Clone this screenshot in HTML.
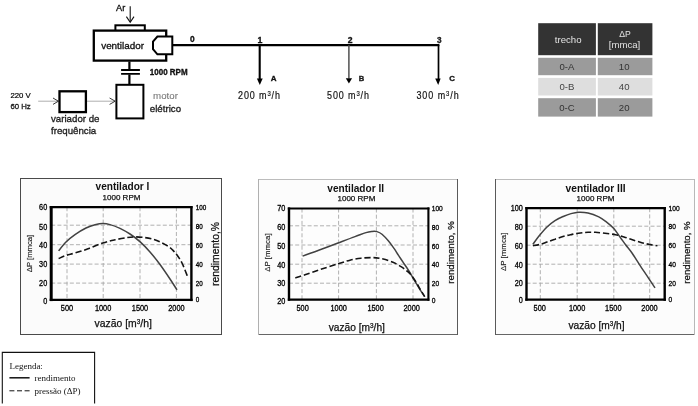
<!DOCTYPE html>
<html>
<head>
<meta charset="utf-8">
<title>ventiladores</title>
<style>
html,body{margin:0;padding:0;background:#fff;}
body{width:698px;height:406px;overflow:hidden;position:relative;font-family:"Liberation Sans",sans-serif;}
svg{position:absolute;left:0;top:0;display:block;will-change:transform;}
text{font-family:"Liberation Sans",sans-serif;fill:#111;}
.serif{font-family:"Liberation Serif",serif;}
.b{font-weight:bold;}
.tk{fill:#000;stroke:#000;stroke-width:0.3px;}
.w{stroke:#111;stroke-width:0.25px;}
#schematic text{stroke:#111;stroke-width:0.32px;}
#schematic text.fl{stroke-width:0.18px;}
#schematic text.lt{stroke:#777;stroke-width:0.1px;}
#table text{stroke-width:0.2px;}
.grid{stroke:#a8a8a8;stroke-width:0.9;stroke-dasharray:4 2.2;fill:none;}
</style>
</head>
<body>
<svg width="698" height="406" viewBox="0 0 698 406">
<defs><filter id="soft" x="0" y="0" width="100%" height="100%" filterUnits="userSpaceOnUse" color-interpolation-filters="sRGB"><feGaussianBlur stdDeviation="0.42"/></filter></defs>
<rect x="0" y="0" width="698" height="406" fill="#ffffff"/>
<g filter="url(#soft)">

<!-- ================= top-left schematic ================= -->
<g id="schematic">
  <!-- Ar + arrow -->
  <text x="116" y="10.6" font-size="9.2">Ar</text>
  <path d="M130.2 6.2 V22" stroke="#111" stroke-width="1.1" fill="none"/>
  <path d="M126.4 16.6 L130.2 22.2 L134 16.6" stroke="#111" stroke-width="1.1" fill="none"/>
  <!-- inlet tab -->
  <rect x="115.4" y="25.3" width="29.4" height="6" fill="#fff" stroke="#000" stroke-width="2"/>
  <!-- fan box -->
  <rect x="93.8" y="30.6" width="72.4" height="30" fill="#fff" stroke="#000" stroke-width="2.3"/>
  <text x="101.2" y="48.9" font-size="9.9">ventilador</text>
  <!-- outlet nozzle -->
  <path d="M157.4 36.6 H172.3 V54.3 H157.4 L153 49.2 V41.6 Z" fill="#fff" stroke="#000" stroke-width="2"/>
  <!-- main pipe -->
  <path d="M173 45.1 H439.4" stroke="#000" stroke-width="2.3" fill="none"/>
  <!-- shaft + coupling -->
  <path d="M129.4 61.6 V69.6 M129.4 74.4 V84" stroke="#000" stroke-width="2.2" fill="none"/>
  <path d="M121.1 70 H139.9 M121.1 73.8 H139.9" stroke="#000" stroke-width="1.8" fill="none"/>
  <text x="149.8" y="74.8" font-size="8.8" class="b" textLength="37.8" lengthAdjust="spacingAndGlyphs">1000 RPM</text>
  <!-- motor -->
  <rect x="116.4" y="84.8" width="27" height="33.6" fill="#fff" stroke="#000" stroke-width="2"/>
  <text x="153.1" y="98.9" font-size="9.7" class="lt" style="fill:#777">motor</text>
  <text x="149.8" y="112.2" font-size="9.7" style="fill:#333">elétrico</text>
  <!-- supply -->
  <text x="10.4" y="98.1" font-size="7.8" style="fill:#000;stroke:#000;stroke-width:0.2px">220 V</text>
  <text x="10.4" y="109" font-size="7.8" style="fill:#333">60 Hz</text>
  <path d="M38.2 101.2 H58.4 M87 101.2 H115.2" stroke="#999" stroke-width="0.8" fill="none"/>
  <path d="M53 98 L58.4 101.2 L53 104.4" stroke="#222" stroke-width="0.9" fill="none"/>
  <path d="M109.6 98 L115.2 101.2 L109.6 104.4" stroke="#222" stroke-width="0.9" fill="none"/>
  <rect x="59.5" y="91.3" width="26.4" height="20.8" fill="#fff" stroke="#000" stroke-width="2.3"/>
  <text x="51" y="121.9" font-size="9.7" style="fill:#333">variador de</text>
  <text x="51" y="134.1" font-size="9.7" style="fill:#333">frequência</text>

  <!-- node labels -->
  <text x="189.9" y="42.4" font-size="8.4" class="b">0</text>
  <text x="257.6" y="42.8" font-size="8.8" class="b">1</text>
  <text x="347.8" y="42.6" font-size="8.6" class="b">2</text>
  <text x="436.9" y="42.6" font-size="8.2" class="b" style="fill:#2a2a2a">3</text>
  <!-- drops -->
  <path d="M259.7 45 V79" stroke="#000" stroke-width="2.1" fill="none"/>
  <path d="M256.9 78.4 H262.7 L259.8 85 Z" fill="#000"/>
  <path d="M348.9 45 V78.5" stroke="#444" stroke-width="1.4" fill="none"/>
  <path d="M345.8 78.2 H352.1 L348.9 83.4 Z" fill="#000"/>
  <path d="M438.5 45 V79" stroke="#000" stroke-width="1.7" fill="none"/>
  <path d="M435.2 78.4 H440.6 L438.2 85 Z" fill="#000"/>
  <text x="270.8" y="80.6" font-size="8" class="b">A</text>
  <text x="358.8" y="80.5" font-size="7.6" class="b" style="fill:#222">B</text>
  <text x="449.2" y="80.5" font-size="7.8" class="b">C</text>
  <text class="fl" transform="translate(238 98.8) scale(0.87 1)" font-size="10.3" textLength="48.3" lengthAdjust="spacing">200 m<tspan font-size="6.8" dy="-3.3">3</tspan><tspan dy="3.3">/h</tspan></text>
  <text class="fl" transform="translate(327 98.8) scale(0.87 1)" font-size="10.3" textLength="48.3" lengthAdjust="spacing">500 m<tspan font-size="6.8" dy="-3.3">3</tspan><tspan dy="3.3">/h</tspan></text>
  <text class="fl" transform="translate(416.4 98.8) scale(0.87 1)" font-size="10.3" textLength="48.7" lengthAdjust="spacing">300 m<tspan font-size="6.8" dy="-3.3">3</tspan><tspan dy="3.3">/h</tspan></text>
</g>

<!-- ================= table ================= -->
<g id="table" font-size="9.6" text-anchor="middle">
  <rect x="538.2" y="23.2" width="57.7" height="32" fill="#333333"/>
  <rect x="597.8" y="23.2" width="54.6" height="32" fill="#333333"/>
  <rect x="538.2" y="57.8" width="57.7" height="17.4" fill="#9b9b9b"/>
  <rect x="597.8" y="57.8" width="54.6" height="17.4" fill="#9b9b9b"/>
  <rect x="538.2" y="77.9" width="57.7" height="17.6" fill="#dedede"/>
  <rect x="597.8" y="77.9" width="54.6" height="17.6" fill="#dedede"/>
  <rect x="538.2" y="98.2" width="57.7" height="18.4" fill="#9b9b9b"/>
  <rect x="597.8" y="98.2" width="54.6" height="18.4" fill="#9b9b9b"/>
  <text x="568.2" y="42.8" style="fill:#e4e4e4">trecho</text>
  <text x="625.1" y="36.6" font-size="8.6" style="fill:#e4e4e4">ΔP</text>
  <text x="624.5" y="48.2" style="fill:#e4e4e4">[mmca]</text>
  <text x="567" y="70" style="fill:#333">0-A</text>
  <text x="624.2" y="70" style="fill:#333">10</text>
  <text x="567" y="90.2" style="fill:#444">0-B</text>
  <text x="624.2" y="90.2" style="fill:#444">40</text>
  <text x="567" y="110.8" style="fill:#333">0-C</text>
  <text x="624.2" y="110.8" style="fill:#333">20</text>
</g>

<!-- CHARTS-BEGIN -->
<g id="c1">
<rect x="20.5" y="178.5" width="201.0" height="156.0" fill="#fbfbfb"/>
<path d="M20.0 178.5 H222.0" stroke="#4a4a4a" stroke-width="1"/>
<path d="M20.0 334.5 H222.0" stroke="#4a4a4a" stroke-width="1"/>
<path d="M20.5 178.0 V335.0" stroke="#4a4a4a" stroke-width="1"/>
<path d="M221.5 178.0 V335.0" stroke="#4a4a4a" stroke-width="1"/>
<rect x="51.2" y="207.2" width="140.2" height="92.7" fill="#fdfdfd"/>
<path class="grid" d="M67.0 207.2 V299.9 M103.2 207.2 V299.9 M140.0 207.2 V299.9 M176.4 207.2 V299.9 M51.2 225.2 H191.4 M51.2 244.7 H191.4 M51.2 264.1 H191.4 M51.2 283.1 H191.4"/>
<path d="M58.6 250.9 C59.8 249.4 63.3 244.7 66.0 242.0 C68.7 239.3 71.7 236.9 75.0 234.6 C78.3 232.3 82.7 229.6 86.0 228.0 C89.3 226.4 92.2 225.5 95.0 224.8 C97.8 224.1 100.3 223.6 102.8 223.6 C105.3 223.6 107.1 223.8 110.0 224.6 C112.9 225.4 116.7 226.8 120.0 228.4 C123.3 230.0 126.6 231.8 130.0 234.0 C133.4 236.2 136.9 238.9 140.2 241.9 C143.5 244.9 146.7 248.2 150.0 252.0 C153.3 255.8 156.7 260.0 160.0 264.5 C163.3 269.0 167.2 274.8 170.0 279.0 C172.8 283.2 175.8 288.0 177.0 289.8" fill="none" stroke="#424242" stroke-width="1.5"/>
<path d="M58.6 258.6 C59.8 258.1 63.3 256.3 66.0 255.4 C68.7 254.5 71.3 254.1 75.0 253.0 C78.7 251.9 83.4 250.5 88.0 248.8 C92.6 247.1 98.3 244.5 102.8 243.0 C107.3 241.5 111.0 240.7 115.0 239.8 C119.0 238.9 123.7 238.1 127.0 237.6 C130.3 237.1 132.0 236.9 135.0 236.9 C138.0 236.9 142.0 237.2 145.0 237.6 C148.0 238.0 150.5 238.5 153.0 239.2 C155.5 239.9 157.5 240.7 160.0 241.9 C162.5 243.1 165.8 244.8 168.0 246.2 C170.2 247.6 171.5 248.9 173.0 250.4 C174.5 251.9 175.5 252.9 177.0 255.0 C178.5 257.1 180.2 259.3 182.0 263.0 C183.8 266.7 186.8 274.7 187.7 277.0" fill="none" stroke="#141414" stroke-width="1.6" stroke-dasharray="6.2 2.8"/>
<path d="M51.2 206.1 V301.1" stroke="#000" stroke-width="3.0"/>
<path d="M191.4 206.1 V301.1" stroke="#000" stroke-width="2.4"/>
<path d="M49.7 207.2 H192.6" stroke="#000" stroke-width="2.2"/>
<path d="M49.7 299.9 H192.6" stroke="#000" stroke-width="2.4"/>
<text class="tk" text-anchor="end" font-size="8.2" transform="translate(47.2 210.2) scale(0.89 1)">60</text>
<text class="tk" text-anchor="end" font-size="8.2" transform="translate(47.2 229.5) scale(0.89 1)">50</text>
<text class="tk" text-anchor="end" font-size="8.2" transform="translate(47.2 247.8) scale(0.89 1)">40</text>
<text class="tk" text-anchor="end" font-size="8.2" transform="translate(47.2 266.8) scale(0.89 1)">30</text>
<text class="tk" text-anchor="end" font-size="8.2" transform="translate(47.2 285.8) scale(0.89 1)">20</text>
<text class="tk" text-anchor="end" font-size="8.2" transform="translate(47.2 303.6) scale(0.89 1)">0</text>
<text class="tk" font-size="7.0" transform="translate(195.8 209.8) scale(0.9 1)">100</text>
<text class="tk" font-size="7.0" transform="translate(195.8 228.8) scale(0.9 1)">80</text>
<text class="tk" font-size="7.0" transform="translate(195.8 248.1) scale(0.9 1)">60</text>
<text class="tk" font-size="7.0" transform="translate(195.8 267.0) scale(0.9 1)">40</text>
<text class="tk" font-size="7.0" transform="translate(195.8 286.0) scale(0.9 1)">20</text>
<text class="tk" font-size="7.0" transform="translate(195.8 302.4) scale(0.9 1)">0</text>
<text class="tk" text-anchor="middle" font-size="8.3" transform="translate(67.0 310.8) scale(0.89 1)">500</text>
<text class="tk" text-anchor="middle" font-size="8.3" transform="translate(103.1 310.8) scale(0.89 1)">1000</text>
<text class="tk" text-anchor="middle" font-size="8.3" transform="translate(140.0 310.8) scale(0.89 1)">1500</text>
<text class="tk" text-anchor="middle" font-size="8.3" transform="translate(176.4 310.8) scale(0.89 1)">2000</text>
<text class="b" text-anchor="middle" x="122.5" y="189.8" font-size="10.1">ventilador I</text>
<text text-anchor="middle" x="121.5" y="199.9" font-size="8" class="w">1000 RPM</text>
<text text-anchor="middle" x="123.2" y="327.4" font-size="10.4" class="w">vazão [m<tspan font-size="6.4" dy="-3">3</tspan><tspan dy="3">/h]</tspan></text>
<text text-anchor="middle" transform="translate(31.8 253.5) rotate(-90)" font-size="7.7" style="fill:#222;stroke:#222;stroke-width:0.15px">ΔP [mmca]</text>
<text text-anchor="middle" transform="translate(219.0 254.0) rotate(-90)" font-size="10.4" class="w">rendimento,%</text>
</g>
<g id="c2">
<rect x="258.5" y="179.5" width="199.0" height="155.0" fill="#fcfcfc"/>
<path d="M258.0 179.5 H458.0" stroke="#bcbcbc" stroke-width="1"/>
<path d="M258.0 334.5 H458.0" stroke="#666666" stroke-width="1"/>
<path d="M258.5 179.0 V335.0" stroke="#b0b0b0" stroke-width="1"/>
<path d="M457.5 179.0 V335.0" stroke="#5a5a5a" stroke-width="1"/>
<rect x="289.0" y="208.5" width="139.4" height="91.2" fill="#fdfdfd"/>
<path class="grid" d="M302.0 208.5 V299.7 M338.6 208.5 V299.7 M376.4 208.5 V299.7 M413.0 208.5 V299.7 M289.0 225.8 H428.4 M289.0 245.0 H428.4 M289.0 264.2 H428.4 M289.0 283.2 H428.4"/>
<path d="M302.6 256.1 C305.5 255.1 314.1 252.0 320.0 249.8 C325.9 247.6 332.2 245.2 338.0 243.0 C343.8 240.8 350.3 238.3 355.0 236.6 C359.7 234.9 363.2 233.5 366.0 232.6 C368.8 231.7 370.2 231.6 372.0 231.4 C373.8 231.2 375.3 231.1 377.0 231.6 C378.7 232.1 380.1 232.6 382.0 234.2 C383.9 235.8 386.5 238.6 388.5 241.0 C390.5 243.4 392.3 246.0 394.0 248.4 C395.7 250.8 396.8 252.9 398.5 255.4 C400.2 257.9 402.3 261.1 404.0 263.6 C405.7 266.1 406.9 267.8 408.6 270.5 C410.3 273.2 412.1 276.4 414.0 279.6 C415.9 282.8 418.2 286.8 420.0 289.6 C421.8 292.4 423.9 295.4 424.7 296.6" fill="none" stroke="#424242" stroke-width="1.5"/>
<path d="M295.3 277.9 C296.9 277.4 300.9 276.2 305.0 274.8 C309.1 273.4 314.5 271.4 320.0 269.6 C325.5 267.8 333.1 265.4 338.1 263.8 C343.1 262.2 346.2 261.1 350.0 260.2 C353.8 259.3 357.3 258.6 360.9 258.2 C364.5 257.8 368.6 257.6 371.8 257.6 C375.0 257.6 377.2 257.9 380.0 258.4 C382.8 258.9 385.8 259.6 388.5 260.5 C391.2 261.4 393.8 262.5 396.0 263.6 C398.2 264.7 400.1 266.0 401.9 267.2 C403.7 268.4 405.6 269.9 407.0 271.0 C408.4 272.1 408.8 272.1 410.3 273.9 C411.8 275.7 414.4 279.5 416.0 282.0 C417.6 284.5 418.6 286.6 420.0 289.0 C421.4 291.4 423.9 295.3 424.7 296.6" fill="none" stroke="#141414" stroke-width="1.6" stroke-dasharray="6.2 2.8"/>
<path d="M289.0 207.4 V300.8" stroke="#000" stroke-width="2.4"/>
<path d="M428.4 207.4 V300.8" stroke="#000" stroke-width="2.1"/>
<path d="M287.8 208.5 H429.4" stroke="#000" stroke-width="2.1"/>
<path d="M287.8 299.7 H429.4" stroke="#000" stroke-width="2.3"/>
<text class="tk" text-anchor="end" font-size="8.2" transform="translate(285.4 211.4) scale(0.89 1)">70</text>
<text class="tk" text-anchor="end" font-size="8.2" transform="translate(285.4 229.9) scale(0.89 1)">60</text>
<text class="tk" text-anchor="end" font-size="8.2" transform="translate(285.4 248.9) scale(0.89 1)">50</text>
<text class="tk" text-anchor="end" font-size="8.2" transform="translate(285.4 267.8) scale(0.89 1)">40</text>
<text class="tk" text-anchor="end" font-size="8.2" transform="translate(285.4 286.1) scale(0.89 1)">30</text>
<text class="tk" text-anchor="end" font-size="8.2" transform="translate(285.4 303.6) scale(0.89 1)">20</text>
<text class="tk" font-size="7.4" transform="translate(431.7 210.8) scale(0.9 1)">100</text>
<text class="tk" font-size="7.4" transform="translate(431.7 229.8) scale(0.9 1)">80</text>
<text class="tk" font-size="7.4" transform="translate(431.7 248.6) scale(0.9 1)">60</text>
<text class="tk" font-size="7.4" transform="translate(431.7 267.1) scale(0.9 1)">40</text>
<text class="tk" font-size="7.4" transform="translate(431.7 286.0) scale(0.9 1)">20</text>
<text class="tk" font-size="7.4" transform="translate(431.7 302.5) scale(0.9 1)">0</text>
<text class="tk" text-anchor="middle" font-size="8.3" transform="translate(302.6 310.6) scale(0.89 1)">500</text>
<text class="tk" text-anchor="middle" font-size="8.3" transform="translate(338.7 310.6) scale(0.89 1)">1000</text>
<text class="tk" text-anchor="middle" font-size="8.3" transform="translate(375.6 310.6) scale(0.89 1)">1500</text>
<text class="tk" text-anchor="middle" font-size="8.3" transform="translate(411.7 310.6) scale(0.89 1)">2000</text>
<text class="b" text-anchor="middle" x="355.7" y="192.2" font-size="10.1">ventilador II</text>
<text text-anchor="middle" x="356.4" y="200.8" font-size="8" class="w">1000 RPM</text>
<text text-anchor="middle" x="356.8" y="331.0" font-size="10.2" class="w">vazão [m<tspan font-size="6.4" dy="-3">3</tspan><tspan dy="3">/h]</tspan></text>
<text text-anchor="middle" transform="translate(269.8 252.6) rotate(-90)" font-size="7.9" style="fill:#222;stroke:#222;stroke-width:0.15px">ΔP [mmca]</text>
<text text-anchor="middle" transform="translate(454.4 252.4) rotate(-90)" font-size="9.7" class="w">rendimento, %</text>
</g>
<g id="c3">
<rect x="495.5" y="179.5" width="199.0" height="155.0" fill="#fcfcfc"/>
<path d="M495.0 179.5 H695.0" stroke="#bcbcbc" stroke-width="1"/>
<path d="M495.0 334.5 H695.0" stroke="#666666" stroke-width="1"/>
<path d="M495.5 179.0 V335.0" stroke="#5a5a5a" stroke-width="1"/>
<path d="M694.5 179.0 V335.0" stroke="#b8b8b8" stroke-width="1"/>
<rect x="526.5" y="208.2" width="138.2" height="91.5" fill="#fdfdfd"/>
<path class="grid" d="M540.3 208.2 V299.7 M577.2 208.2 V299.7 M613.8 208.2 V299.7 M649.7 208.2 V299.7 M526.5 226.2 H664.7 M526.5 245.2 H664.7 M526.5 264.2 H664.7 M526.5 283.2 H664.7"/>
<path d="M532.9 244.4 C533.9 243.0 536.6 238.9 539.0 236.0 C541.4 233.1 544.3 229.6 547.0 227.0 C549.7 224.4 552.2 222.4 555.0 220.6 C557.8 218.8 561.1 217.4 563.8 216.2 C566.5 215.0 568.5 214.3 571.0 213.6 C573.5 212.9 576.0 212.3 578.8 212.2 C581.6 212.1 584.7 212.2 588.0 213.0 C591.3 213.8 595.8 215.5 598.8 216.9 C601.8 218.3 603.5 219.7 606.0 221.6 C608.5 223.5 611.5 226.0 613.8 228.6 C616.1 231.2 618.0 234.3 620.0 237.0 C622.0 239.7 623.6 242.1 625.6 244.8 C627.6 247.5 629.8 249.8 632.0 253.0 C634.2 256.2 637.0 260.7 639.0 263.8 C641.0 266.9 642.3 268.9 644.0 271.4 C645.7 273.9 647.2 276.1 649.0 278.9 C650.8 281.6 654.0 286.4 655.0 287.9" fill="none" stroke="#424242" stroke-width="1.5"/>
<path d="M532.9 245.7 C534.1 245.5 537.6 245.0 540.0 244.4 C542.4 243.8 544.5 242.9 547.0 242.0 C549.5 241.1 552.2 240.1 555.0 239.2 C557.8 238.2 561.0 237.1 563.8 236.3 C566.6 235.5 569.2 235.0 572.0 234.4 C574.8 233.8 577.8 233.3 580.5 233.0 C583.2 232.7 585.5 232.4 588.0 232.3 C590.5 232.2 592.6 232.2 595.4 232.3 C598.2 232.5 601.6 232.8 605.0 233.2 C608.4 233.6 612.3 234.1 615.5 234.7 C618.7 235.3 621.2 236.2 624.0 237.0 C626.8 237.8 629.5 238.8 632.3 239.7 C635.1 240.6 638.2 241.6 641.0 242.4 C643.8 243.2 646.3 243.9 649.0 244.4 C651.7 244.9 656.0 245.5 657.4 245.7" fill="none" stroke="#141414" stroke-width="1.6" stroke-dasharray="6.2 2.8"/>
<path d="M526.5 207.0 V300.8" stroke="#000" stroke-width="2.4"/>
<path d="M664.7 207.0 V300.8" stroke="#000" stroke-width="2.4"/>
<path d="M525.3 208.2 H665.9" stroke="#000" stroke-width="2.3"/>
<path d="M525.3 299.7 H665.9" stroke="#000" stroke-width="2.3"/>
<text class="tk" text-anchor="end" font-size="8.2" transform="translate(522.8 211.4) scale(0.89 1)">100</text>
<text class="tk" text-anchor="end" font-size="8.2" transform="translate(522.8 229.9) scale(0.89 1)">80</text>
<text class="tk" text-anchor="end" font-size="8.2" transform="translate(522.8 248.9) scale(0.89 1)">60</text>
<text class="tk" text-anchor="end" font-size="8.2" transform="translate(522.8 267.8) scale(0.89 1)">40</text>
<text class="tk" text-anchor="end" font-size="8.2" transform="translate(522.8 286.1) scale(0.89 1)">20</text>
<text class="tk" text-anchor="end" font-size="8.2" transform="translate(522.8 302.9) scale(0.89 1)">0</text>
<text class="tk" font-size="7.4" transform="translate(668.6 210.6) scale(0.9 1)">100</text>
<text class="tk" font-size="7.4" transform="translate(668.6 229.0) scale(0.9 1)">80</text>
<text class="tk" font-size="7.4" transform="translate(668.6 248.1) scale(0.9 1)">60</text>
<text class="tk" font-size="7.4" transform="translate(668.6 267.1) scale(0.9 1)">40</text>
<text class="tk" font-size="7.4" transform="translate(668.6 285.8) scale(0.9 1)">20</text>
<text class="tk" font-size="7.4" transform="translate(668.6 301.6) scale(0.9 1)">0</text>
<text class="tk" text-anchor="middle" font-size="8.3" transform="translate(539.7 310.6) scale(0.89 1)">500</text>
<text class="tk" text-anchor="middle" font-size="8.3" transform="translate(577.1 310.6) scale(0.89 1)">1000</text>
<text class="tk" text-anchor="middle" font-size="8.3" transform="translate(613.3 310.6) scale(0.89 1)">1500</text>
<text class="tk" text-anchor="middle" font-size="8.3" transform="translate(649.5 310.6) scale(0.89 1)">2000</text>
<text class="b" text-anchor="middle" x="595.6" y="192.2" font-size="10.2">ventilador III</text>
<text text-anchor="middle" x="595.5" y="200.8" font-size="8" class="w">1000 RPM</text>
<text text-anchor="middle" x="596.5" y="328.6" font-size="10.2" class="w">vazão [m<tspan font-size="6.4" dy="-3">3</tspan><tspan dy="3">/h]</tspan></text>
<text text-anchor="middle" transform="translate(506.3 251.8) rotate(-90)" font-size="7.9" style="fill:#222;stroke:#222;stroke-width:0.15px">ΔP [mmca]</text>
<text text-anchor="middle" transform="translate(690.4 252.5) rotate(-90)" font-size="9.7" class="w">rendimento, %</text>
</g>
<!-- CHARTS-END -->
<!-- LEGEND-BEGIN -->
<g id="legend">
<path d="M2.3 403.4 V352.4 H94.6 V403.4" fill="none" stroke="#111" stroke-width="1.1"/>
<text class="serif" x="9.4" y="368.8" font-size="9">Legenda:</text>
<path d="M9.4 377.8 H29.6" stroke="#111" stroke-width="1.5" fill="none"/>
<text class="serif" x="34.5" y="381.4" font-size="9">rendimento</text>
<path d="M9.4 390.8 H29.6" stroke="#111" stroke-width="1" stroke-dasharray="5 2.6" fill="none"/>
<text class="serif" x="34.5" y="394.1" font-size="9">pressão (ΔP)</text>
</g>
<!-- LEGEND-END -->
</g>
</svg>
</body>
</html>
